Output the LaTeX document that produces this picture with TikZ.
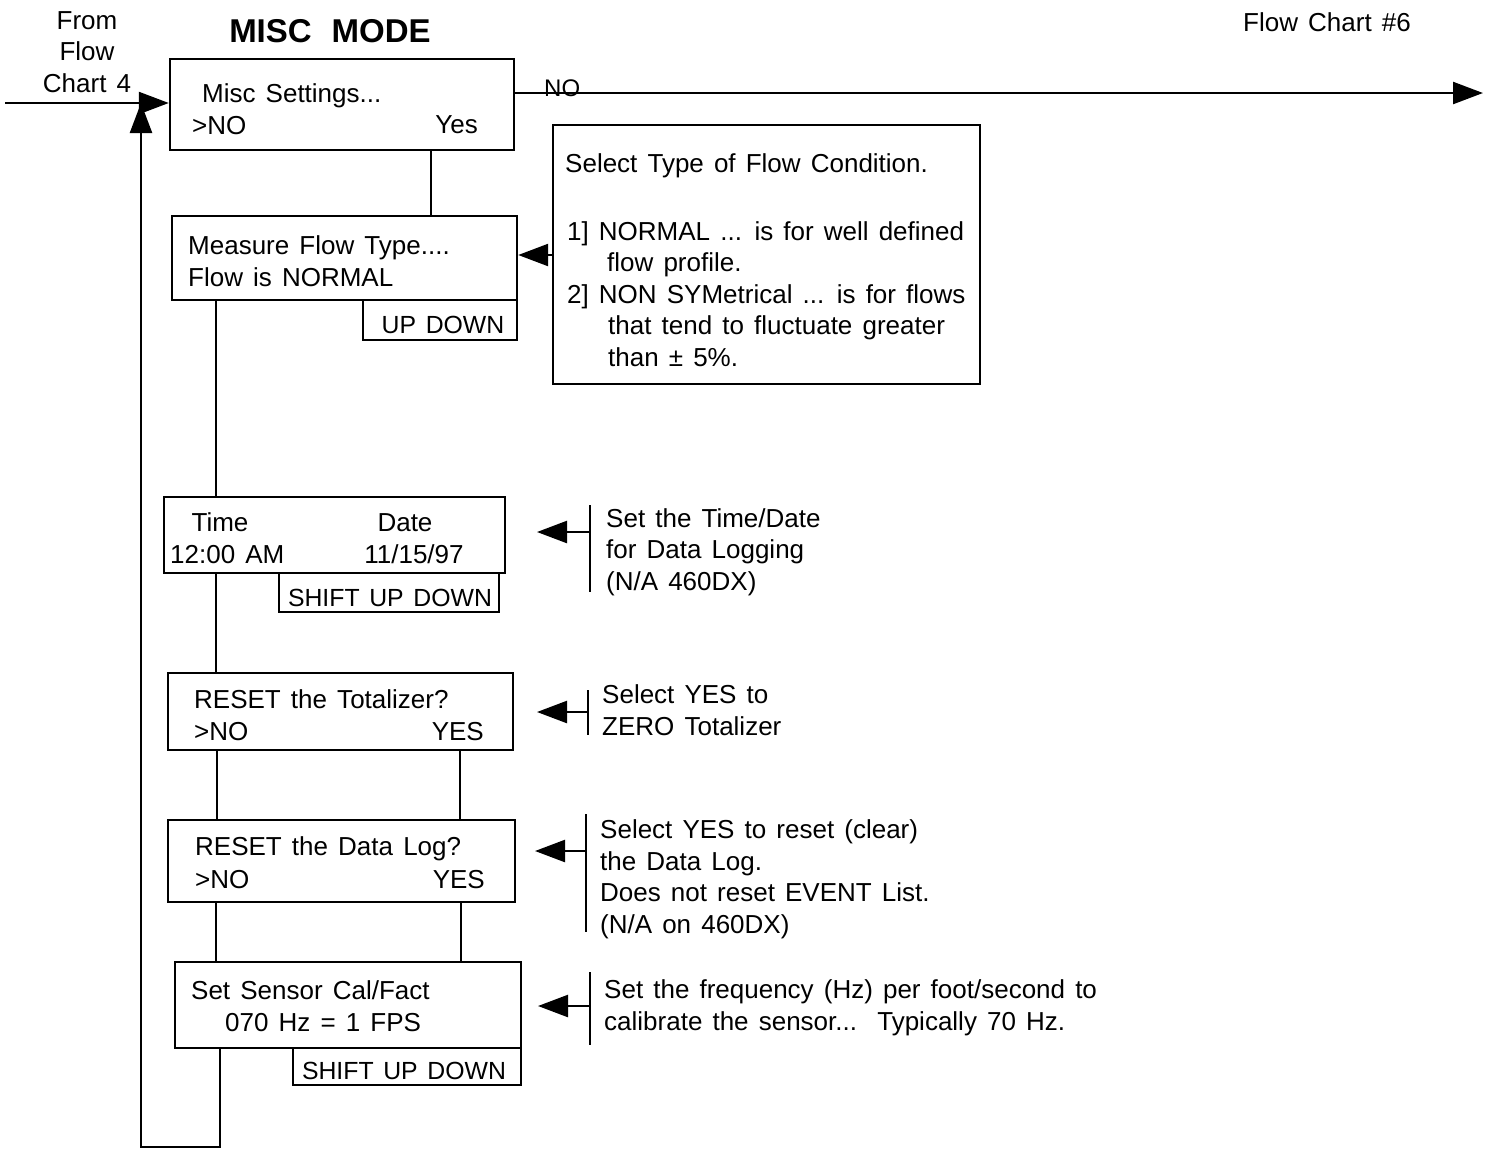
\documentclass[tikz,border=0pt]{standalone}
\usepackage{fontspec}
\setmainfont[WordSpace=1.4]{Liberation Sans}
\usetikzlibrary{arrows.meta,fit}
\begin{document}
\begin{tikzpicture}[x=0.5pt,y=-0.5pt,line width=1.2pt,
    box/.style={draw,inner sep=0pt},
    txt/.style={inner sep=0pt,anchor=base west,font=\fontsize{13}{15.75}\selectfont},
    keys/.style={txt,anchor=base,font=\fontsize{12.4}{15}\selectfont},
    arr/.style={-{Triangle[length=15pt,width=11pt]}}]
\useasboundingbox (0,0) rectangle (1485,1153);

\node[txt,anchor=base,align=center] (from) at (87,92) {From\\Flow\\Chart 4}; %entree
\node[txt,anchor=base,font=\fontsize{16.5}{20}\selectfont\bfseries] (title) at (330,42) {MISC\hspace{10pt}MODE}; %titre
\node[txt,anchor=base] (next) at (1327,31) {Flow Chart \#6}; %sortie

\node[box,fit={(170,59)(514,150)}] (misc) {}; %boite misc
\node[txt] (miscA) at (201,102) {Misc Settings...};
\node[txt] (miscB) at (191,134) {>NO};
\node[txt,anchor=base east] (miscC) at (479,133) {Yes};

\node[box,fit={(172,216)(517,300)}] (flow) {}; %boite flow type
\node[txt,align=left] (flowA) at (187,286) {Measure Flow Type....\\Flow is NORMAL};
\node[box,fit={(363,300)(517,340)}] (flowkeys) {};
\node[keys] (flowkeysA) at (443,333) {UP DOWN};

\node[box,fit={(553,125)(980,384)}] (cond) {}; %boite condition
\node[txt] (condA) at (564,172) {Select Type of Flow Condition.};
\node[txt,align=left] (condB) at (566,366) {1] NORMAL ... is for well defined\\\hspace*{20pt}flow profile.\\2] NON SYMetrical ... is for flows\\\hspace*{20.5pt}that tend to fluctuate greater\\\hspace*{20.5pt}than ± 5\%.};

\node[box,fit={(164,497)(505,573)}] (time) {}; %boite heure
\node[txt,anchor=base] (timeA) at (220,531) {Time};
\node[txt,anchor=base] (timeB) at (405,531) {Date};
\node[txt] (timeC) at (169,563) {12:00 AM};
\node[txt,anchor=base] (timeD) at (414,563) {11/15/97};
\node[box,fit={(279,573)(499,612)}] (timekeys) {};
\node[keys] (timekeysA) at (390,606) {SHIFT UP DOWN};

\node[box,fit={(168,673)(513,750)}] (tot) {}; %boite totalisateur
\node[txt] (totA) at (193,708) {RESET the Totalizer?};
\node[txt] (totB) at (193,740) {>NO};
\node[txt,anchor=base east] (totC) at (485,740) {YES};

\node[box,fit={(168,820)(515,902)}] (log) {}; %boite data log
\node[txt] (logA) at (194,855) {RESET the Data Log?};
\node[txt] (logB) at (194,888) {>NO};
\node[txt,anchor=base east] (logC) at (486,888) {YES};

\node[box,fit={(175,962)(521,1048)}] (sensor) {}; %boite capteur
\node[txt] (sensorA) at (190,999) {Set Sensor Cal/Fact};
\node[txt] (sensorB) at (224,1031) {070 Hz = 1 FPS};
\node[box,fit={(293,1048)(521,1085)}] (sensorkeys) {};
\node[keys] (sensorkeysA) at (404,1079) {SHIFT UP DOWN};

% notes
\node[txt,align=left] (ntime) at (605,590) {Set the Time/Date\\for Data Logging\\(N/A 460DX)};
\draw (590,505) -- (590,592);
\coordinate (ntimeb) at (590,532);
\draw[arr] (ntimeb) -- ++(-53,0);

\node[txt,align=left] (ntot) at (601,735) {Select YES to\\ZERO Totalizer};
\draw (588,690) -- (588,735);
\coordinate (ntotb) at (588,712);
\draw[arr] (ntotb) -- ++(-51,0);

\node[txt,align=left] (nlog) at (599,933) {Select YES to reset (clear)\\the Data Log.\\Does not reset EVENT List.\\(N/A on 460DX)};
\draw (586,814) -- (586,932);
\coordinate (nlogb) at (586,851);
\draw[arr] (nlogb) -- ++(-51,0);

\node[txt,align=left] (nsensor) at (603,1030) {Set the frequency (Hz) per foot/second to\\calibrate the sensor...\ \ Typically 70 Hz.};
\draw (590,972) -- (590,1045);
\coordinate (nsensorb) at (590,1006);
\draw[arr] (nsensorb) -- ++(-52,0);

% liaisons
\coordinate (start) at (5,103);
\coordinate (exit) at (1483,93);
\draw[arr] (start) -- (misc.west |- start);
\draw[arr] (misc.east |- exit) -- (exit);
\node[txt,font=\fontsize{12}{14}\selectfont] (no) at (543,96) {NO};
\draw (misc.south -| 431,0) -- (flow.north -| 431,0);
\draw[arr] (cond.west |- 0,255) -- (flow.east |- 0,255);
\draw (flow.south -| 216,0) -- (time.north -| 216,0);
\draw (time.south -| 216,0) -- (tot.north -| 216,0);
\draw (tot.south -| 217,0) -- (log.north -| 217,0);
\draw (tot.south -| 460,0) -- (log.north -| 460,0);
\draw (log.south -| 216,0) -- (sensor.north -| 216,0);
\draw (log.south -| 461,0) -- (sensor.north -| 461,0);
\draw[arr] (sensor.south -| 220,0) -- (220,1147) -- (141,1147) -- (start -| 141,0); %retour
\end{tikzpicture}
\end{document}
